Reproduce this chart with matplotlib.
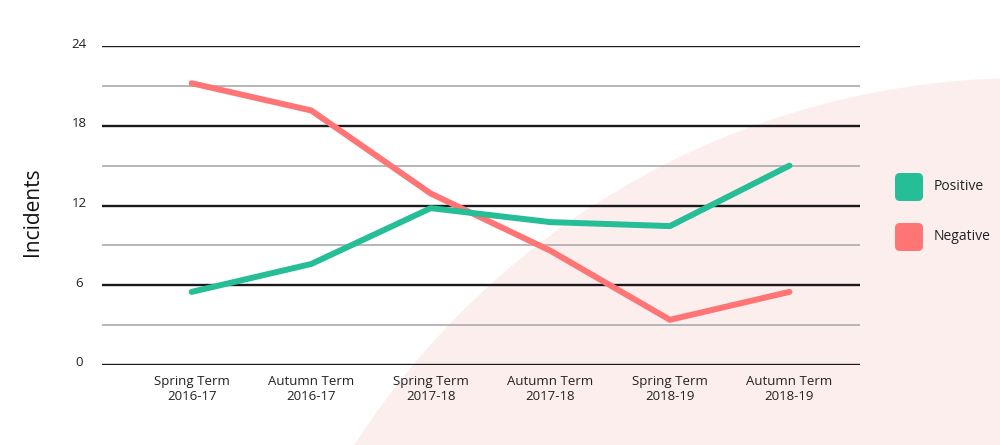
import numpy as np
import matplotlib
matplotlib.use('Agg')
import matplotlib.pyplot as plt
from matplotlib.patches import Circle, FancyBboxPatch
from matplotlib.transforms import ScaledTranslation

plt.rcParams['font.family'] = ['Open Sans', 'DejaVu Sans']

# data
terms = ['Spring Term\n2016-17', 'Autumn Term\n2016-17', 'Spring Term\n2017-18',
         'Autumn Term\n2017-18', 'Spring Term\n2018-19', 'Autumn Term\n2018-19']
positive = [5.5, 7.6, 11.8, 10.75, 10.45, 15.0]
negative = [21.2, 19.15, 12.9, 8.6, 3.4, 5.5]
major_ticks = [0, 6, 12, 18, 24]
minor_ticks = [3, 9, 15, 21]

green = '#25BE97'
red = '#FF7474'
pink = '#FDEEEE'

fig = plt.figure(figsize=(10, 4.45), dpi=100)
fig.patch.set_facecolor('white')

# big pink circle in the background
bg = Circle((10.26, -4.31), 7.98, transform=fig.dpi_scale_trans,
            facecolor=pink, edgecolor='none', zorder=-1)
fig.patches.append(bg)

ax = fig.add_axes([0.102, 0.1798, 0.758, 0.7168])
ax.patch.set_alpha(0)

x = np.arange(len(terms))
for t in major_ticks:
    ax.axhline(t, color='#1a1a1a', lw=1.7, zorder=1)
for t in minor_ticks:
    ax.axhline(t, color='#aaaaaa', lw=1.2, zorder=1)

ax.plot(x, negative, color=red, lw=4.3, solid_capstyle='round', solid_joinstyle='round', zorder=3)
ax.plot(x, positive, color=green, lw=4.3, solid_capstyle='round', solid_joinstyle='round', zorder=3)

ax.set_xlim(-0.75, 5.59)
ax.set_ylim(0, 24)
for s in ax.spines.values():
    s.set_visible(False)

ax.set_yticks(major_ticks)
ax.set_yticklabels([str(t) for t in major_ticks], fontsize=9.5, color='#222222', ha='center')
ax.tick_params(axis='y', length=0, pad=16.5)
for lab in ax.get_yticklabels():
    lab.set_transform(lab.get_transform() + ScaledTranslation(0, 3.5 / 100, fig.dpi_scale_trans))

ax.set_xticks(x)
ax.set_xticklabels(terms, fontsize=9.5, color='#222222', linespacing=1.25)
ax.tick_params(axis='x', length=0, pad=7)

fig.text(0.033, 0.524, 'Incidents', rotation=90, fontsize=15, color='#111111',
         ha='center', va='center')

# legend with rounded squares
for label, col, yc in [('Positive', green, 187), ('Negative', red, 237)]:
    box = FancyBboxPatch((8.95, (445 - yc - 14) / 100), 0.28, 0.28,
                         boxstyle='round,pad=0,rounding_size=0.05',
                         transform=fig.dpi_scale_trans, facecolor=col, edgecolor='none')
    fig.patches.append(box)
    fig.text(0.934, (445 - yc) / 445, label, fontsize=10, color='#222222',
             ha='left', va='center')

fig.savefig('out.png', dpi=100)
